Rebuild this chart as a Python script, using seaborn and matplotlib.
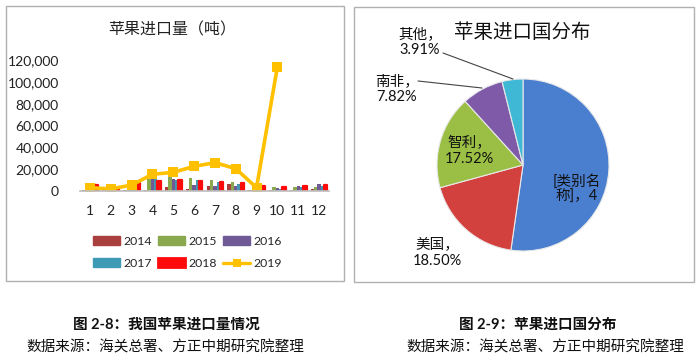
import numpy as np
import pandas as pd
import matplotlib
matplotlib.use("Agg")
import matplotlib.pyplot as plt
from matplotlib.patches import Rectangle, Patch
from matplotlib.lines import Line2D
from matplotlib.ticker import FuncFormatter
import seaborn as sns

sns.set_theme(style="white")
plt.rcParams['font.family'] = ['Lato', 'Noto Sans CJK SC', 'DejaVu Sans']

# ---------------- data ----------------
months = ["1", "2", "3", "4", "5", "6", "7", "8", "9", "10", "11", "12"]
y2014 = [1000, 500, 500, 1000, 3500, 2000, 4000, 6000, 1000, 500, 1000, 2000]
y2015 = [2500, 1000, 3000, 12000, 17000, 12000, 10000, 8000, 1000, 3500, 3000, 3500]
y2016 = [1500, 1000, 2500, 12000, 11000, 5000, 4000, 4000, 500, 2500, 4500, 6000]
y2017 = [2000, 1000, 3500, 11000, 10000, 10000, 8000, 6000, 1000, 1500, 3000, 4000]
y2018 = [5000, 2000, 7000, 9000, 10000, 9000, 8000, 7000, 4000, 3500, 4500, 5000]
y2019 = [2800, 1600, 5200, 15100, 16900, 22400, 25800, 20300, 2800, 113800]
years = ["2014", "2015", "2016", "2017", "2018"]
y_ticks = [0, 20000, 40000, 60000, 80000, 100000, 120000]

pie_labels = ["[类别名\n称]，4", "美国，\n18.50%", "智利，\n17.52%", "南非，\n7.82%", "其他，\n3.91%"]
pie_values = [52.25, 18.50, 17.52, 7.82, 3.91]

title_left = "苹果进口量（吨）"
title_right = "苹果进口国分布"
cap_left = "图 2-8：我国苹果进口量情况"
cap_right = "图 2-9：苹果进口国分布"
source = "数据来源：海关总署、方正中期研究院整理"

bar_colors = ["#a9403d", "#8aa84d", "#6f5a96", "#3e9bb5", "#ff0a0a"]
line_color = "#ffc000"
pie_colors = ["#4a7fd0", "#d2413d", "#9bbf45", "#7e5aa8", "#3fb8d6"]

W, H = 700, 362
fig = plt.figure(figsize=(7, 3.62), dpi=100)

def fx(px):
    return px / W

def fy(py):
    return 1 - py / H

# panel borders
for (x0, y0, x1, y1) in [(6, 6, 344, 281), (354, 7, 694, 282)]:
    fig.patches.append(Rectangle((fx(x0), fy(y1)), fx(x1 - x0), (y1 - y0) / H,
                                 transform=fig.transFigure, fill=False,
                                 edgecolor="#b0b0b0", linewidth=1.0))

# ---------------- left chart ----------------
ax = fig.add_axes([fx(79.6), fy(190.7), fx(249.8), 130.4 / H])
rows = []
for yr, vals in zip(years, [y2014, y2015, y2016, y2017, y2018]):
    for m, v in zip(months, vals):
        rows.append({"month": m, "value": v, "year": yr})
df = pd.DataFrame(rows)
sns.barplot(data=df, x="month", y="value", hue="year", palette=bar_colors,
            order=months, hue_order=years, ax=ax, legend=False, width=0.8,
            saturation=1)
for i, cont in enumerate(ax.containers):
    for p in cont:
        if i == 4:
            p.set_edgecolor(bar_colors[4])
            p.set_linewidth(1.6)
            p.set_joinstyle("round")
        else:
            p.set_linewidth(0)

sns.lineplot(x=np.arange(len(y2019)), y=y2019, color=line_color, marker="s",
             markersize=7, markeredgewidth=0, linewidth=2.6, ax=ax, legend=False)

ax.set_xlim(-0.5, 11.5)
ax.set_ylim(0, 120000)
ax.set_yticks(y_ticks)
ax.yaxis.set_major_formatter(FuncFormatter(lambda v, p: f"{v:,.0f}"))
ax.set_xlabel("")
ax.set_ylabel("")
ax.tick_params(axis="both", length=0, labelsize=10, colors="#222222")
ax.tick_params(axis="y", pad=15)
ax.tick_params(axis="x", pad=10)
for s in ["left", "right", "top"]:
    ax.spines[s].set_visible(False)
ax.spines["bottom"].set_color("#c0c0c0")
ax.set_facecolor("none")

fig.text(fx(172), fy(30), title_left, ha="center", va="center", fontsize=11.5,
         color="#222222")

handles = [Patch(facecolor=c, edgecolor=c) for c in bar_colors]
handles[4] = Patch(facecolor=bar_colors[4], edgecolor=bar_colors[4], linewidth=2)
h2019 = Line2D([], [], color=line_color, marker="s", markersize=6, linewidth=2.4,
               markeredgewidth=0)
all_h = handles + [h2019]
all_l = years + ["2019"]
order = [0, 3, 1, 4, 2, 5]
ax.legend([all_h[i] for i in order], [all_l[i] for i in order], ncol=3,
          loc="upper left", bbox_to_anchor=(fx(82), fy(225)),
          bbox_transform=fig.transFigure, frameon=False, fontsize=8.8,
          handlelength=2.2, handleheight=0.7, columnspacing=0.5,
          handletextpad=0.3, labelspacing=0.9)

# ---------------- right chart (pie) ----------------
cx, cy, r = 523, 165, 86
pax = fig.add_axes([fx(cx - r), fy(cy + r), fx(2 * r), 2 * r / H])
wedges, _ = pax.pie(pie_values, colors=pie_colors, startangle=90,
                    counterclock=False,
                    wedgeprops=dict(edgecolor="#e8e8e8", linewidth=0.8))
pax.set_xlim(-1, 1)
pax.set_ylim(-1, 1)
pax.axis("off")

def lab(x, y, text, size=10.5):
    fig.text(fx(x), fy(y), text, ha="center", va="center", fontsize=size,
             color="#111111", linespacing=1.15)

lab(420, 42, pie_labels[4])
lab(397, 89, pie_labels[3])
lab(469, 151, pie_labels[2])
lab(577, 189, pie_labels[0])
lab(437, 253, pie_labels[1])

# leader lines
fig.add_artist(Line2D([fx(443), fx(513)], [fy(53), fy(79)], color="#444444",
                      linewidth=0.8, transform=fig.transFigure))
fig.add_artist(Line2D([fx(418), fx(482)], [fy(81), fy(88)], color="#444444",
                      linewidth=0.8, transform=fig.transFigure))

fig.text(fx(522), fy(32), title_right, ha="center", va="center", fontsize=14,
         color="#111111")

# ---------------- captions ----------------
fig.text(fx(166), fy(325), cap_left, ha="center", va="center", fontsize=10.5,
         fontweight="bold", color="#111111")
fig.text(fx(165), fy(347), source, ha="center", va="center", fontsize=10.5,
         color="#111111")
fig.text(fx(538), fy(325), cap_right, ha="center", va="center", fontsize=10.5,
         fontweight="bold", color="#111111")
fig.text(fx(545), fy(347), source, ha="center", va="center", fontsize=10.5,
         color="#111111")

fig.savefig("out.png", dpi=100, facecolor="white")
